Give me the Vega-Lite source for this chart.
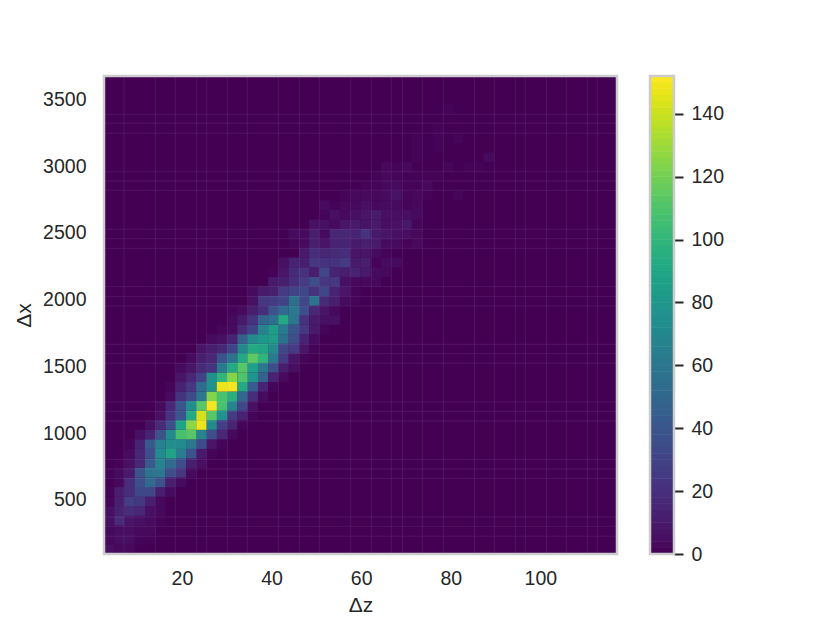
{"$schema":"https://vega.github.io/schema/vega-lite/v6.json","padding":{"left":13,"top":74,"right":5,"bottom":5},"spacing":29,
"background":"white",
"config":{"view":{"stroke":null},"font":"Liberation Sans","axis":{"labelFont":"Liberation Sans","titleFont":"Liberation Sans","labelColor":"#262626","titleColor":"#262626","labelFontSize":19.5,"titleFontSize":21,"titleFontWeight":"normal","grid":false,"domain":false}},
"datasets":{"cells":[
{"z":3.75,"x":130.8,"n":6},{"z":6.04,"x":130.8,"n":3},{"z":8.33,"x":130.8,"n":3},
{"z":3.75,"x":202.4,"n":3},{"z":6.04,"x":202.4,"n":5},{"z":8.33,"x":202.4,"n":5},{"z":10.62,"x":202.4,"n":2},{"z":12.91,"x":202.4,"n":1},
{"z":3.75,"x":274,"n":3},{"z":6.04,"x":274,"n":5},{"z":8.33,"x":274,"n":5},{"z":10.62,"x":274,"n":3},{"z":12.91,"x":274,"n":3},
{"z":3.75,"x":345.6,"n":6},{"z":6.04,"x":345.6,"n":18},{"z":8.33,"x":345.6,"n":8},{"z":10.62,"x":345.6,"n":6},{"z":12.91,"x":345.6,"n":4},{"z":15.2,"x":345.6,"n":1},
{"z":3.75,"x":417.2,"n":6},{"z":6.04,"x":417.2,"n":14},{"z":8.33,"x":417.2,"n":20},{"z":10.62,"x":417.2,"n":16},{"z":12.91,"x":417.2,"n":6},{"z":15.2,"x":417.2,"n":3},
{"z":3.75,"x":488.8,"n":2},{"z":6.04,"x":488.8,"n":12},{"z":8.33,"x":488.8,"n":28},{"z":10.62,"x":488.8,"n":24},{"z":12.91,"x":488.8,"n":12},{"z":15.2,"x":488.8,"n":3},
{"z":3.75,"x":560.4,"n":1},{"z":6.04,"x":560.4,"n":12},{"z":8.33,"x":560.4,"n":20},{"z":10.62,"x":560.4,"n":32},{"z":12.91,"x":560.4,"n":32},{"z":15.2,"x":560.4,"n":12},{"z":17.49,"x":560.4,"n":4},
{"z":6.04,"x":632,"n":3},{"z":8.33,"x":632,"n":20},{"z":10.62,"x":632,"n":36},{"z":12.91,"x":632,"n":52},{"z":15.2,"x":632,"n":38},{"z":17.49,"x":632,"n":12},{"z":19.78,"x":632,"n":4},
{"z":3.75,"x":703.6,"n":1},{"z":6.04,"x":703.6,"n":4},{"z":8.33,"x":703.6,"n":10},{"z":10.62,"x":703.6,"n":38},{"z":12.91,"x":703.6,"n":58},{"z":15.2,"x":703.6,"n":60},{"z":17.49,"x":703.6,"n":36},{"z":19.78,"x":703.6,"n":24},{"z":22.07,"x":703.6,"n":4},
{"z":6.04,"x":775.2,"n":1},{"z":8.33,"x":775.2,"n":6},{"z":10.62,"x":775.2,"n":16},{"z":12.91,"x":775.2,"n":42},{"z":15.2,"x":775.2,"n":68},{"z":17.49,"x":775.2,"n":52},{"z":19.78,"x":775.2,"n":36},{"z":22.07,"x":775.2,"n":12},{"z":24.36,"x":775.2,"n":5},
{"z":8.33,"x":846.8,"n":4},{"z":10.62,"x":846.8,"n":16},{"z":12.91,"x":846.8,"n":36},{"z":15.2,"x":846.8,"n":72},{"z":17.49,"x":846.8,"n":88},{"z":19.78,"x":846.8,"n":64},{"z":22.07,"x":846.8,"n":38},{"z":24.36,"x":846.8,"n":10},{"z":26.65,"x":846.8,"n":2},
{"z":8.33,"x":918.4,"n":2},{"z":10.62,"x":918.4,"n":14},{"z":12.91,"x":918.4,"n":42},{"z":15.2,"x":918.4,"n":66},{"z":17.49,"x":918.4,"n":74},{"z":19.78,"x":918.4,"n":72},{"z":22.07,"x":918.4,"n":60},{"z":24.36,"x":918.4,"n":34},{"z":26.65,"x":918.4,"n":8},{"z":28.94,"x":918.4,"n":2},
{"z":10.62,"x":990,"n":6},{"z":12.91,"x":990,"n":14},{"z":15.2,"x":990,"n":38},{"z":17.49,"x":990,"n":72},{"z":19.78,"x":990,"n":108},{"z":22.07,"x":990,"n":112},{"z":24.36,"x":990,"n":68},{"z":26.65,"x":990,"n":36},{"z":28.94,"x":990,"n":16},{"z":31.23,"x":990,"n":3},
{"z":12.91,"x":1061.6,"n":6},{"z":15.2,"x":1061.6,"n":18},{"z":17.49,"x":1061.6,"n":36},{"z":19.78,"x":1061.6,"n":88},{"z":22.07,"x":1061.6,"n":126},{"z":24.36,"x":1061.6,"n":148},{"z":26.65,"x":1061.6,"n":72},{"z":28.94,"x":1061.6,"n":28},{"z":31.23,"x":1061.6,"n":14},{"z":33.52,"x":1061.6,"n":2},
{"z":15.2,"x":1133.2,"n":6},{"z":17.49,"x":1133.2,"n":22},{"z":19.78,"x":1133.2,"n":40},{"z":22.07,"x":1133.2,"n":92},{"z":24.36,"x":1133.2,"n":142},{"z":26.65,"x":1133.2,"n":112},{"z":28.94,"x":1133.2,"n":76},{"z":31.23,"x":1133.2,"n":26},{"z":33.52,"x":1133.2,"n":14},{"z":35.81,"x":1133.2,"n":2},
{"z":15.2,"x":1204.8,"n":4},{"z":17.49,"x":1204.8,"n":16},{"z":19.78,"x":1204.8,"n":40},{"z":22.07,"x":1204.8,"n":74},{"z":24.36,"x":1204.8,"n":112},{"z":26.65,"x":1204.8,"n":150},{"z":28.94,"x":1204.8,"n":108},{"z":31.23,"x":1204.8,"n":68},{"z":33.52,"x":1204.8,"n":32},{"z":35.81,"x":1204.8,"n":6},
{"z":17.49,"x":1276.4,"n":4},{"z":19.78,"x":1276.4,"n":22},{"z":22.07,"x":1276.4,"n":34},{"z":24.36,"x":1276.4,"n":60},{"z":26.65,"x":1276.4,"n":124},{"z":28.94,"x":1276.4,"n":108},{"z":31.23,"x":1276.4,"n":96},{"z":33.52,"x":1276.4,"n":50},{"z":35.81,"x":1276.4,"n":20},{"z":38.1,"x":1276.4,"n":4},
{"z":17.49,"x":1348,"n":2},{"z":19.78,"x":1348,"n":14},{"z":22.07,"x":1348,"n":24},{"z":24.36,"x":1348,"n":54},{"z":26.65,"x":1348,"n":76},{"z":28.94,"x":1348,"n":148},{"z":31.23,"x":1348,"n":150},{"z":33.52,"x":1348,"n":92},{"z":35.81,"x":1348,"n":44},{"z":38.1,"x":1348,"n":14},{"z":40.39,"x":1348,"n":2},
{"z":19.78,"x":1419.6,"n":8},{"z":22.07,"x":1419.6,"n":16},{"z":24.36,"x":1419.6,"n":30},{"z":26.65,"x":1419.6,"n":76},{"z":28.94,"x":1419.6,"n":100},{"z":31.23,"x":1419.6,"n":124},{"z":33.52,"x":1419.6,"n":110},{"z":35.81,"x":1419.6,"n":78},{"z":38.1,"x":1419.6,"n":46},{"z":40.39,"x":1419.6,"n":14},{"z":42.68,"x":1419.6,"n":4},
{"z":19.78,"x":1491.2,"n":4},{"z":22.07,"x":1491.2,"n":8},{"z":24.36,"x":1491.2,"n":18},{"z":26.65,"x":1491.2,"n":22},{"z":28.94,"x":1491.2,"n":62},{"z":31.23,"x":1491.2,"n":92},{"z":33.52,"x":1491.2,"n":112},{"z":35.81,"x":1491.2,"n":86},{"z":38.1,"x":1491.2,"n":60},{"z":40.39,"x":1491.2,"n":36},{"z":42.68,"x":1491.2,"n":12},{"z":44.97,"x":1491.2,"n":5},
{"z":22.07,"x":1562.8,"n":4},{"z":24.36,"x":1562.8,"n":12},{"z":26.65,"x":1562.8,"n":16},{"z":28.94,"x":1562.8,"n":38},{"z":31.23,"x":1562.8,"n":58},{"z":33.52,"x":1562.8,"n":92},{"z":35.81,"x":1562.8,"n":114},{"z":38.1,"x":1562.8,"n":100},{"z":40.39,"x":1562.8,"n":62},{"z":42.68,"x":1562.8,"n":26},{"z":44.97,"x":1562.8,"n":8},{"z":47.26,"x":1562.8,"n":2},
{"z":24.36,"x":1634.4,"n":8},{"z":26.65,"x":1634.4,"n":12},{"z":28.94,"x":1634.4,"n":16},{"z":31.23,"x":1634.4,"n":30},{"z":33.52,"x":1634.4,"n":70},{"z":35.81,"x":1634.4,"n":92},{"z":38.1,"x":1634.4,"n":90},{"z":40.39,"x":1634.4,"n":72},{"z":42.68,"x":1634.4,"n":32},{"z":44.97,"x":1634.4,"n":26},{"z":47.26,"x":1634.4,"n":8},{"z":49.55,"x":1634.4,"n":2},
{"z":26.65,"x":1706,"n":4},{"z":28.94,"x":1706,"n":6},{"z":31.23,"x":1706,"n":14},{"z":33.52,"x":1706,"n":46},{"z":35.81,"x":1706,"n":72},{"z":38.1,"x":1706,"n":80},{"z":40.39,"x":1706,"n":84},{"z":42.68,"x":1706,"n":56},{"z":44.97,"x":1706,"n":36},{"z":47.26,"x":1706,"n":14},{"z":49.55,"x":1706,"n":4},
{"z":28.94,"x":1777.6,"n":2},{"z":31.23,"x":1777.6,"n":4},{"z":33.52,"x":1777.6,"n":18},{"z":35.81,"x":1777.6,"n":30},{"z":38.1,"x":1777.6,"n":66},{"z":40.39,"x":1777.6,"n":84},{"z":42.68,"x":1777.6,"n":62},{"z":44.97,"x":1777.6,"n":40},{"z":47.26,"x":1777.6,"n":24},{"z":49.55,"x":1777.6,"n":10},{"z":51.84,"x":1777.6,"n":2},
{"z":31.23,"x":1849.2,"n":3},{"z":33.52,"x":1849.2,"n":10},{"z":35.81,"x":1849.2,"n":22},{"z":38.1,"x":1849.2,"n":48},{"z":40.39,"x":1849.2,"n":56},{"z":42.68,"x":1849.2,"n":92},{"z":44.97,"x":1849.2,"n":60},{"z":47.26,"x":1849.2,"n":22},{"z":49.55,"x":1849.2,"n":10},{"z":51.84,"x":1849.2,"n":6},{"z":54.13,"x":1849.2,"n":6},
{"z":31.23,"x":1920.8,"n":2},{"z":33.52,"x":1920.8,"n":4},{"z":35.81,"x":1920.8,"n":12},{"z":38.1,"x":1920.8,"n":20},{"z":40.39,"x":1920.8,"n":38},{"z":42.68,"x":1920.8,"n":52},{"z":44.97,"x":1920.8,"n":62},{"z":47.26,"x":1920.8,"n":36},{"z":49.55,"x":1920.8,"n":16},{"z":51.84,"x":1920.8,"n":8},{"z":54.13,"x":1920.8,"n":3},
{"z":35.81,"x":1992.4,"n":6},{"z":38.1,"x":1992.4,"n":24},{"z":40.39,"x":1992.4,"n":26},{"z":42.68,"x":1992.4,"n":30},{"z":44.97,"x":1992.4,"n":56},{"z":47.26,"x":1992.4,"n":32},{"z":49.55,"x":1992.4,"n":58},{"z":51.84,"x":1992.4,"n":18},{"z":54.13,"x":1992.4,"n":12},{"z":56.42,"x":1992.4,"n":4},{"z":58.71,"x":1992.4,"n":1},
{"z":35.81,"x":2064,"n":4},{"z":38.1,"x":2064,"n":10},{"z":40.39,"x":2064,"n":12},{"z":42.68,"x":2064,"n":26},{"z":44.97,"x":2064,"n":30},{"z":47.26,"x":2064,"n":32},{"z":49.55,"x":2064,"n":22},{"z":51.84,"x":2064,"n":32},{"z":54.13,"x":2064,"n":14},{"z":56.42,"x":2064,"n":8},{"z":58.71,"x":2064,"n":2},
{"z":40.39,"x":2135.6,"n":10},{"z":42.68,"x":2135.6,"n":12},{"z":44.97,"x":2135.6,"n":20},{"z":47.26,"x":2135.6,"n":26},{"z":49.55,"x":2135.6,"n":36},{"z":51.84,"x":2135.6,"n":24},{"z":54.13,"x":2135.6,"n":24},{"z":56.42,"x":2135.6,"n":6},{"z":58.71,"x":2135.6,"n":3},{"z":61,"x":2135.6,"n":3},{"z":63.29,"x":2135.6,"n":3},
{"z":40.39,"x":2207.2,"n":1},{"z":42.68,"x":2207.2,"n":8},{"z":44.97,"x":2207.2,"n":18},{"z":47.26,"x":2207.2,"n":22},{"z":49.55,"x":2207.2,"n":12},{"z":51.84,"x":2207.2,"n":32},{"z":54.13,"x":2207.2,"n":14},{"z":56.42,"x":2207.2,"n":12},{"z":58.71,"x":2207.2,"n":14},{"z":61,"x":2207.2,"n":10},{"z":63.29,"x":2207.2,"n":4},{"z":65.58,"x":2207.2,"n":3},
{"z":42.68,"x":2278.8,"n":6},{"z":44.97,"x":2278.8,"n":14},{"z":47.26,"x":2278.8,"n":12},{"z":49.55,"x":2278.8,"n":24},{"z":51.84,"x":2278.8,"n":22},{"z":54.13,"x":2278.8,"n":22},{"z":56.42,"x":2278.8,"n":26},{"z":58.71,"x":2278.8,"n":10},{"z":61,"x":2278.8,"n":12},{"z":63.29,"x":2278.8,"n":1},{"z":65.58,"x":2278.8,"n":4},{"z":67.87,"x":2278.8,"n":4},
{"z":47.26,"x":2350.4,"n":10},{"z":49.55,"x":2350.4,"n":20},{"z":51.84,"x":2350.4,"n":16},{"z":54.13,"x":2350.4,"n":18},{"z":56.42,"x":2350.4,"n":20},{"z":58.71,"x":2350.4,"n":8},{"z":61,"x":2350.4,"n":8},{"z":63.29,"x":2350.4,"n":4},{"z":65.58,"x":2350.4,"n":2},
{"z":44.97,"x":2422,"n":2},{"z":47.26,"x":2422,"n":4},{"z":49.55,"x":2422,"n":12},{"z":51.84,"x":2422,"n":8},{"z":54.13,"x":2422,"n":14},{"z":56.42,"x":2422,"n":14},{"z":58.71,"x":2422,"n":10},{"z":61,"x":2422,"n":12},{"z":63.29,"x":2422,"n":10},{"z":65.58,"x":2422,"n":4},{"z":67.87,"x":2422,"n":4},{"z":70.16,"x":2422,"n":1},{"z":72.45,"x":2422,"n":3},
{"z":44.97,"x":2493.6,"n":4},{"z":47.26,"x":2493.6,"n":4},{"z":49.55,"x":2493.6,"n":12},{"z":51.84,"x":2493.6,"n":4},{"z":54.13,"x":2493.6,"n":16},{"z":56.42,"x":2493.6,"n":16},{"z":58.71,"x":2493.6,"n":14},{"z":61,"x":2493.6,"n":22},{"z":63.29,"x":2493.6,"n":10},{"z":65.58,"x":2493.6,"n":8},{"z":67.87,"x":2493.6,"n":6},{"z":70.16,"x":2493.6,"n":5},{"z":72.45,"x":2493.6,"n":3},
{"z":49.55,"x":2565.2,"n":6},{"z":51.84,"x":2565.2,"n":6},{"z":54.13,"x":2565.2,"n":4},{"z":56.42,"x":2565.2,"n":8},{"z":58.71,"x":2565.2,"n":10},{"z":61,"x":2565.2,"n":7},{"z":63.29,"x":2565.2,"n":10},{"z":65.58,"x":2565.2,"n":5},{"z":67.87,"x":2565.2,"n":6},{"z":70.16,"x":2565.2,"n":9},{"z":72.45,"x":2565.2,"n":2},
{"z":51.84,"x":2636.8,"n":2},{"z":54.13,"x":2636.8,"n":6},{"z":56.42,"x":2636.8,"n":3},{"z":58.71,"x":2636.8,"n":6},{"z":61,"x":2636.8,"n":8},{"z":63.29,"x":2636.8,"n":10},{"z":65.58,"x":2636.8,"n":6},{"z":67.87,"x":2636.8,"n":5},{"z":70.16,"x":2636.8,"n":5},{"z":72.45,"x":2636.8,"n":4},
{"z":51.84,"x":2708.4,"n":4},{"z":54.13,"x":2708.4,"n":1},{"z":56.42,"x":2708.4,"n":3},{"z":58.71,"x":2708.4,"n":3},{"z":61,"x":2708.4,"n":6},{"z":63.29,"x":2708.4,"n":3},{"z":65.58,"x":2708.4,"n":4},{"z":67.87,"x":2708.4,"n":4},{"z":70.16,"x":2708.4,"n":2},{"z":72.45,"x":2708.4,"n":3},
{"z":56.42,"x":2780,"n":2},{"z":58.71,"x":2780,"n":3},{"z":61,"x":2780,"n":3},{"z":63.29,"x":2780,"n":3},{"z":65.58,"x":2780,"n":4},{"z":67.87,"x":2780,"n":7},{"z":70.16,"x":2780,"n":2},{"z":72.45,"x":2780,"n":3},{"z":74.74,"x":2780,"n":1},{"z":81.61,"x":2780,"n":2},
{"z":61,"x":2851.6,"n":1},{"z":63.29,"x":2851.6,"n":2},{"z":65.58,"x":2851.6,"n":3},{"z":67.87,"x":2851.6,"n":4},{"z":70.16,"x":2851.6,"n":1},{"z":72.45,"x":2851.6,"n":1},{"z":74.74,"x":2851.6,"n":3},
{"z":63.29,"x":2923.2,"n":1},{"z":65.58,"x":2923.2,"n":3},{"z":67.87,"x":2923.2,"n":2},{"z":70.16,"x":2923.2,"n":1},{"z":72.45,"x":2923.2,"n":1},{"z":74.74,"x":2923.2,"n":1},{"z":77.03,"x":2923.2,"n":1},
{"z":65.58,"x":2994.8,"n":3},{"z":67.87,"x":2994.8,"n":2},{"z":70.16,"x":2994.8,"n":3},{"z":79.32,"x":2994.8,"n":2},{"z":83.9,"x":2994.8,"n":1},{"z":86.19,"x":2994.8,"n":1},
{"z":72.45,"x":3066.4,"n":1},{"z":88.48,"x":3066.4,"n":4},
{"z":72.45,"x":3138,"n":1},{"z":77.03,"x":3138,"n":1},
{"z":72.45,"x":3209.6,"n":1},{"z":77.03,"x":3209.6,"n":1},{"z":81.61,"x":3209.6,"n":1},
{"z":77.03,"x":3281.2,"n":1},
{"z":79.32,"x":3424.4,"n":1}
],
"bar":[{"n":1},{"n":3},{"n":5},{"n":7},{"n":9},{"n":11},{"n":13},{"n":15},{"n":17},{"n":19},{"n":21},{"n":23},{"n":25},{"n":27},{"n":29},{"n":31},{"n":33},{"n":35},{"n":37},{"n":39},{"n":41},{"n":43},{"n":45},{"n":47},{"n":49},{"n":51},{"n":53},{"n":55},{"n":57},{"n":59},{"n":61},{"n":63},{"n":65},{"n":67},{"n":69},{"n":71},{"n":73},{"n":75},{"n":77},{"n":79},{"n":81},{"n":83},{"n":85},{"n":87},{"n":89},{"n":91},{"n":93},{"n":95},{"n":97},{"n":99},{"n":101},{"n":103},{"n":105},{"n":107},{"n":109},{"n":111},{"n":113},{"n":115},{"n":117},{"n":119},{"n":121},{"n":123},{"n":125},{"n":127},{"n":129},{"n":131},{"n":133},{"n":135},{"n":137},{"n":139},{"n":141},{"n":143},{"n":145},{"n":147},{"n":149},{"n":151}],
"sz":[{"z":7.06},{"z":14.05},{"z":18.52},{"z":23.29},{"z":25.52},{"z":30.12},{"z":34.59},{"z":41.51},{"z":46.19},{"z":50.66},{"z":57.67},{"z":62.27},{"z":66.73},{"z":69.19},{"z":73.65},{"z":78.34},{"z":85.26},{"z":89.72},{"z":94.41},{"z":96.64},{"z":101.33},{"z":105.79},{"z":110.48},{"z":112.71}],
"sx":[{"x":3389},{"x":3322},{"x":3247},{"x":2959},{"x":2889},{"x":2820},{"x":2528},{"x":2457},{"x":2385},{"x":2098},{"x":2023},{"x":1953},{"x":1666},{"x":1596},{"x":1524},{"x":1234},{"x":1164},{"x":1091},{"x":804},{"x":732},{"x":662},{"x":372},{"x":303},{"x":228}],
"frame":[{"frame":1}]},
"hconcat":[
{"width":513,"height":478,"view":{"fill":"#440154"},
"layer":[
{"data":{"name":"cells"},"mark":{"type":"rect","width":10.4,"height":9.7,"clip":true},
"encoding":{
"x":{"field":"z","type":"quantitative","title":"Δz","scale":{"domain":[2.6,117.1],"nice":false,"zero":false},"axis":{"values":[20,40,60,80,100],"ticks":false,"labelPadding":15,"labelAngle":0,"titlePadding":7}},
"y":{"field":"x","type":"quantitative","title":"Δx","scale":{"domain":[95,3676],"nice":false,"zero":false},"axis":{"values":[500,1000,1500,2000,2500,3000,3500],"format":"d","ticks":false,"labelPadding":18,"titlePadding":8}},
"color":{"field":"n","type":"quantitative","legend":null,"scale":{"scheme":"viridis","domain":[0,152]}}}},
{"data":{"name":"sz"},"mark":{"type":"rule","color":"white","opacity":0.08,"strokeWidth":1},"encoding":{"x":{"field":"z","type":"quantitative","title":"Δz"}}},
{"data":{"name":"sx"},"mark":{"type":"rule","color":"white","opacity":0.08,"strokeWidth":1},"encoding":{"y":{"field":"x","type":"quantitative","title":"Δx"}}},
{"data":{"name":"frame"},"mark":{"type":"rect","fill":null,"stroke":"#cccccc","strokeWidth":2.5},"encoding":{}}
]},
{"width":24,"height":478,
"layer":[
{"data":{"name":"bar"},"mark":{"type":"rect","height":6.8,"clip":true},
"encoding":{
"y":{"field":"n","type":"quantitative","title":null,"scale":{"domain":[0,152],"nice":false,"zero":false},"axis":{"orient":"right","values":[0,20,40,60,80,100,120,140],"tickSize":9,"tickWidth":2,"tickColor":"#262626","labelPadding":8}},
"color":{"field":"n","type":"quantitative","legend":null,"scale":{"scheme":"viridis","domain":[0,152]}}}},
{"data":{"name":"frame"},"mark":{"type":"rect","fill":null,"stroke":"#cccccc","strokeWidth":2.5},"encoding":{}}
]}
],
"resolve":{"scale":{"color":"independent","y":"independent","x":"independent"}}}
